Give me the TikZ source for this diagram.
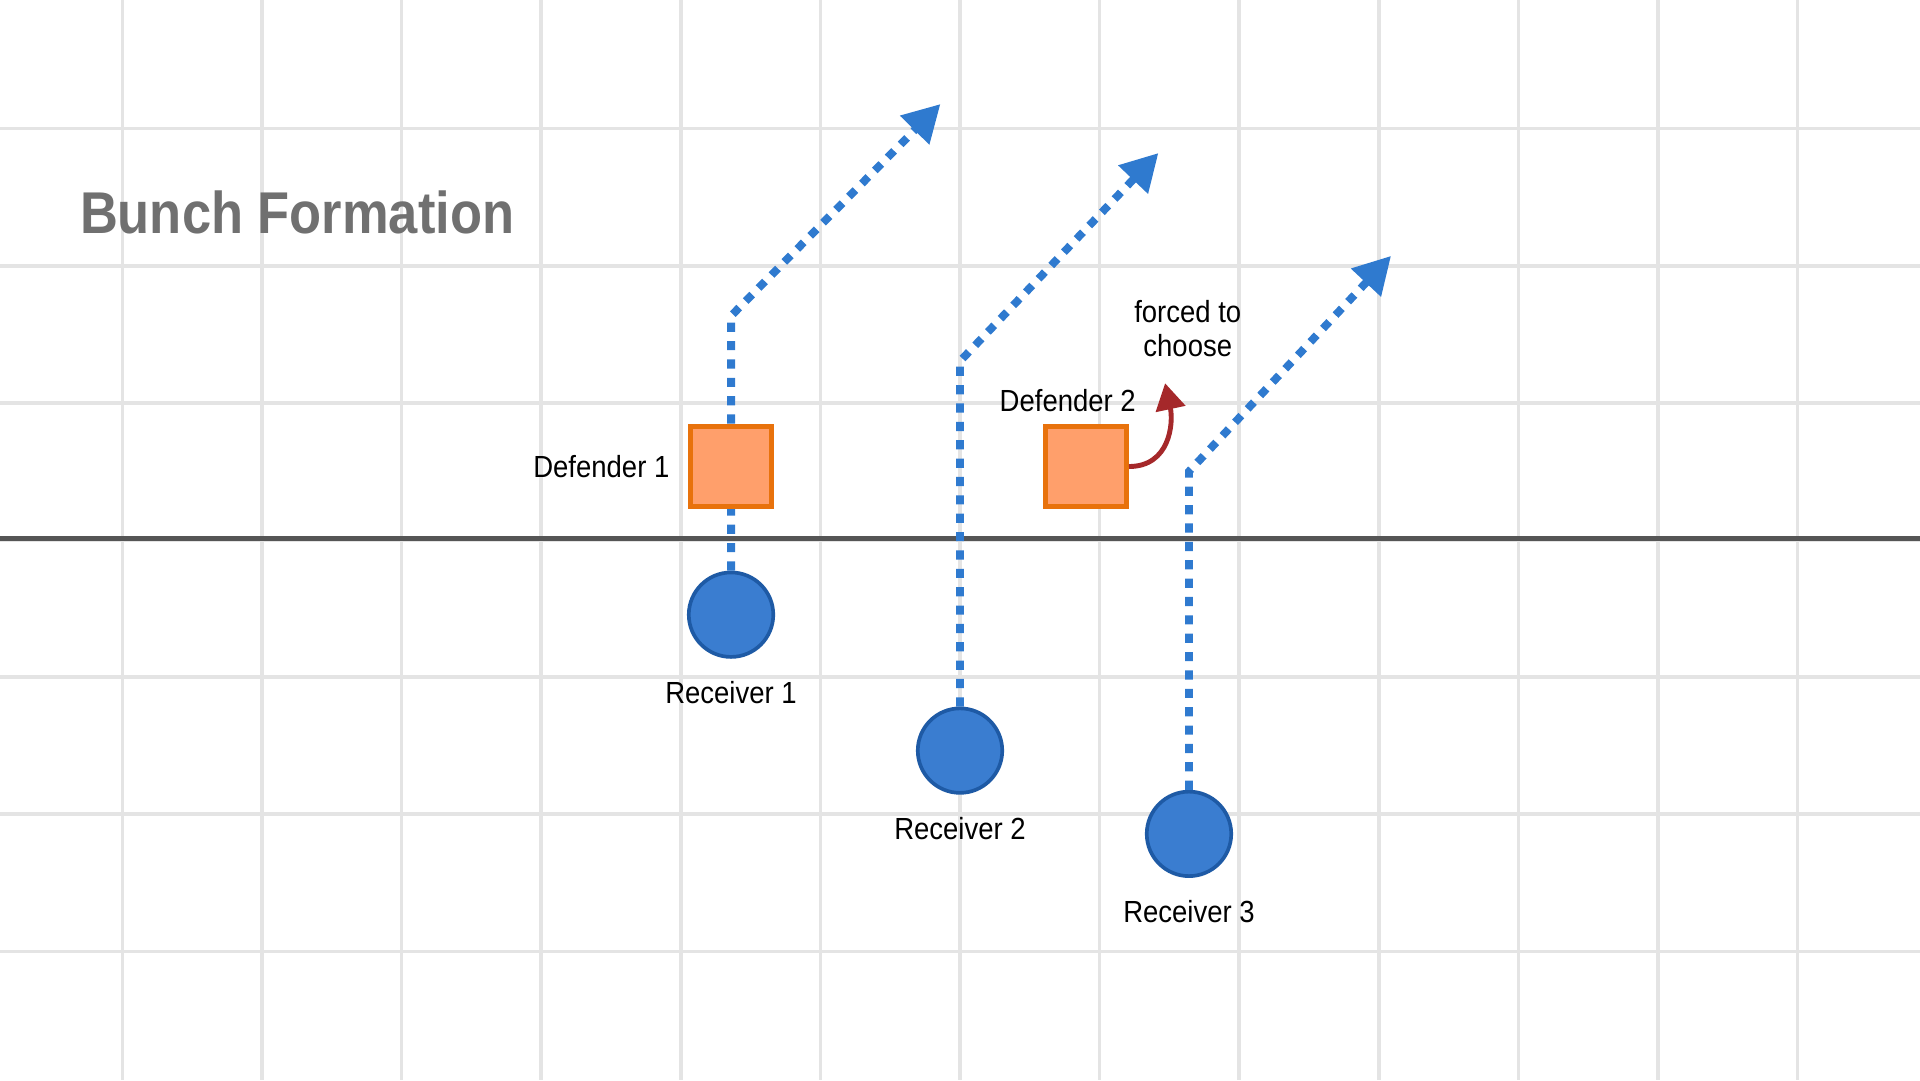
\documentclass[tikz,border=0pt]{standalone}
\usepackage{fontspec}
\setmainfont{Liberation Sans}[FakeStretch=0.9]
\newfontfamily\titlefont{Liberation Sans}[FakeStretch=0.89]
\usepackage{tikz}
\usetikzlibrary{positioning}
\usetikzlibrary{arrows.meta}
\definecolor{gridgrey}{HTML}{E4E4E4}
\definecolor{losgrey}{HTML}{555555}
\definecolor{titlegrey}{HTML}{707070}
\definecolor{routeblue}{HTML}{2F7ACF}
\definecolor{recfill}{HTML}{3A7DD0}
\definecolor{recline}{HTML}{1E5AA5}
\definecolor{deffill}{HTML}{FF9F6B}
\definecolor{defline}{HTML}{E8720C}
\definecolor{choicered}{HTML}{A5282A}
\tikzset{
  label_text/.style = {inner sep=0pt, text=black,
    font=\fontsize{14.2}{16}\selectfont},
  title_text/.style = {inner sep=0pt, text=titlegrey,
    font=\titlefont\bfseries\fontsize{27.4}{30}\selectfont},
  receiver_node/.style = {circle, draw=recline, fill=recfill,
    line width=0.06cm, minimum size=1.38cm, inner sep=0pt},% receiver, blue disc
  defender_node/.style = {rectangle, draw=defline, fill=deffill,
    line width=0.08cm, minimum size=1.32cm, inner sep=0pt},% defender, orange box
  route/.style = {draw=routeblue, line width=0.13cm,
    dash pattern=on 0.15cm off 0.15cm,
    -{Triangle[length=0.6cm, width=0.64cm]}},% dotted route
  choice_arrow/.style = {draw=choicered, line width=0.08cm,
    -{Triangle[length=0.43cm, width=0.48cm]}},% defender has to pick
  grid_line/.style = {gridgrey, line width=0.06cm},
  los_line/.style = {losgrey, line width=0.08cm}
}

\begin{document}
\begin{tikzpicture}
  \useasboundingbox (0,0) rectangle (31.36,17.64);
  % field grid
  \foreach \i in {0,...,12}
    \draw[grid_line] ({2+2.28*\i},0) -- ({2+2.28*\i},17.64);
  \foreach \j in {0,...,6}
    \draw[grid_line] (0,{15.54-2.24*\j}) -- (31.36,{15.54-2.24*\j});
  % line of scrimmage
  \draw[los_line] (0,8.84) -- (31.36,8.84);

  \node[title_text, anchor=base west] (title) at (1.3,13.82) {Bunch Formation};

  \node[receiver_node] (r1) at (11.94,7.60) {};
  \node[receiver_node] (r2) at (15.68,5.38) {};
  \node[receiver_node] (r3) at (19.42,4.02) {};

  \coordinate (b1) at (11.94,12.48);
  \coordinate (t1) at (15.36,15.94);
  \coordinate (b2) at (15.68,11.74);
  \coordinate (t2) at (18.92,15.14);
  \coordinate (b3) at (19.42,9.94);
  \coordinate (t3) at (22.72,13.46);
  \draw[route] (r1) -- (b1) -- (t1);
  \draw[route] (r2) -- (b2) -- (t2);
  \draw[route] (r3) -- (b3) -- (t3);

  \node[defender_node] (d1) at (11.94,10.02) {};
  \node[defender_node] (d2) at (17.74,10.02) {};

  \node[label_text, below=0.36cm of r1] (r1_label) {Receiver 1};
  \node[label_text, below=0.36cm of r2] (r2_label) {Receiver 2};
  \node[label_text, below=0.36cm of r3] (r3_label) {Receiver 3};
  \node[label_text, left=0.3cm of d1] (d1_label) {Defender 1};
  \node[label_text, above=0.18cm of d2, xshift=-0.3cm] (d2_label) {Defender 2};

  \coordinate (choice_tip) at (19.03,11.38);
  \draw[choice_arrow] (d2.east) to[out=0, in=-78, looseness=1.15] (choice_tip);
  \node[label_text, align=center] (forced) at (19.40,12.27) {forced to\\choose};
\end{tikzpicture}
\end{document}
